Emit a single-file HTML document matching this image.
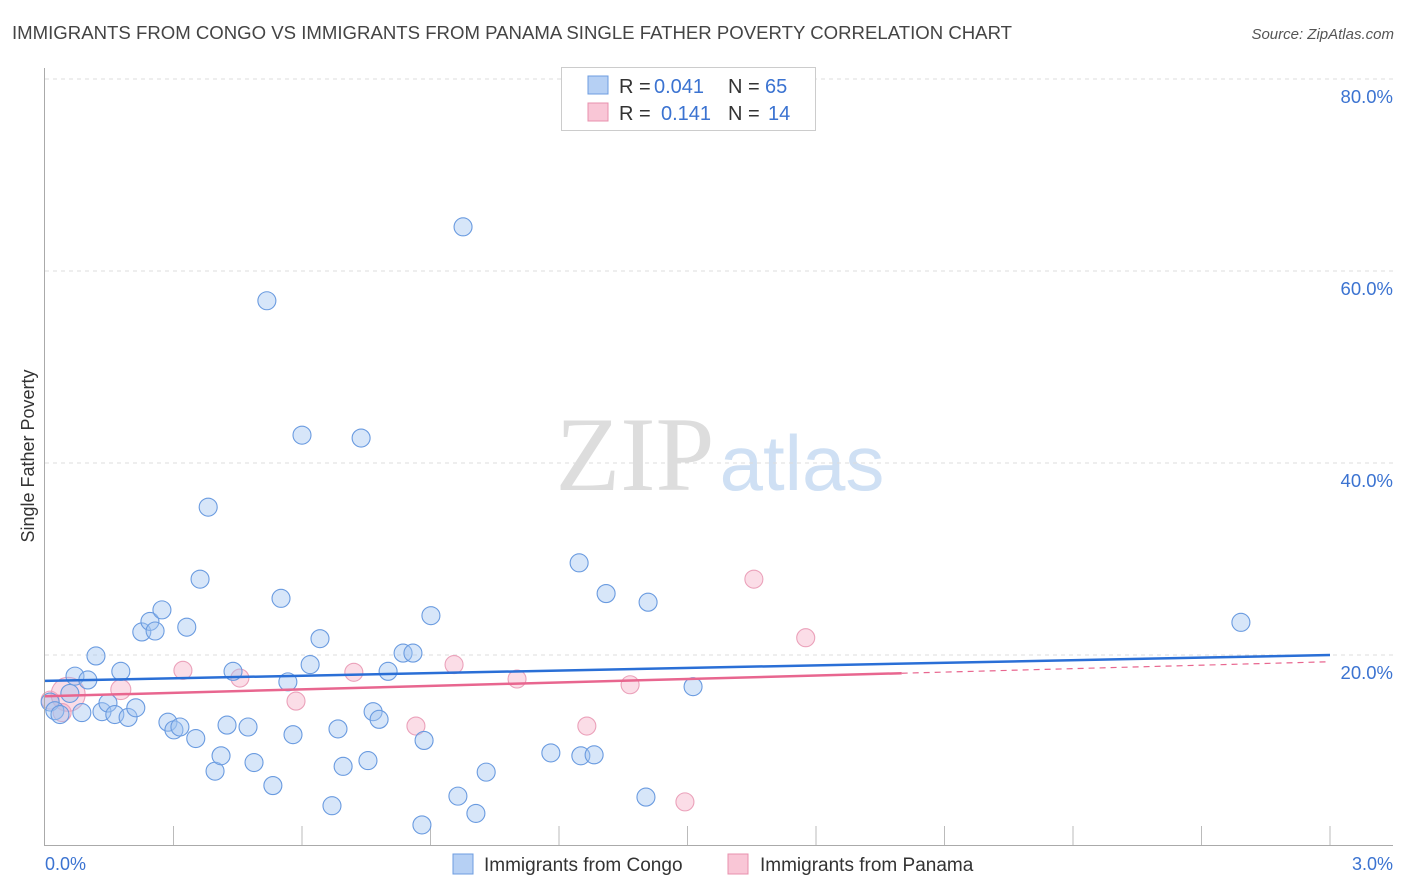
<!DOCTYPE html>
<html><head><meta charset="utf-8"><style>
body{margin:0;background:#fff;font-family:"Liberation Sans",sans-serif;}
svg{display:block}
</style></head><body>
<svg width="1406" height="892" xmlns="http://www.w3.org/2000/svg" id="svg">
<text x="12" y="39" font-size="18.6" fill="#444">IMMIGRANTS FROM CONGO VS IMMIGRANTS FROM PANAMA SINGLE FATHER POVERTY CORRELATION CHART</text>
<text x="1394" y="39" font-size="15" fill="#555" text-anchor="end" font-style="italic">Source: ZipAtlas.com</text>
<text transform="translate(34,456) rotate(-90)" font-size="18" fill="#333" text-anchor="middle">Single Father Poverty</text>
<g>
<text x="635" y="490" font-size="106" font-family="Liberation Serif" fill="#ddd" text-anchor="middle">ZIP</text>
<text x="802" y="490" font-size="78" fill="#cfe0f4" text-anchor="middle">atlas</text>
</g>
<g id="grid"></g>
<g id="marks"></g>
<line x1="44.5" y1="68" x2="44.5" y2="845" stroke="#aaa"/>
<line x1="44" y1="845.5" x2="1393" y2="845.5" stroke="#aaa"/>
<text x="45" y="870" font-size="18" fill="#3b73d1">0.0%</text>
<text x="1393" y="870" font-size="18" fill="#3b73d1" text-anchor="end">3.0%</text>
<g font-size="20">
<rect x="561.5" y="67.5" width="254" height="63" fill="#fff" stroke="#ccc"/>
<rect x="588" y="76" width="20" height="18" fill="#b6d0f4" stroke="#6d9ce0"/>
<rect x="588" y="103" width="20" height="18" fill="#f9c6d6" stroke="#e890ad"/>
<text x="619" y="93" fill="#333">R =</text>
<text x="654" y="93" fill="#3b73d1">0.041</text>
<text x="728" y="93" fill="#333">N =</text>
<text x="765" y="93" fill="#3b73d1">65</text>
<text x="619" y="120" fill="#333">R =</text>
<text x="661" y="120" fill="#3b73d1">0.141</text>
<text x="728" y="120" fill="#333">N =</text>
<text x="768" y="120" fill="#3b73d1">14</text>
</g>
<g>
<rect x="453" y="854" width="20" height="20" fill="#b6d0f4" stroke="#6d9ce0"/>
<text x="484" y="871" font-size="19" fill="#333">Immigrants from Congo</text>
<rect x="728" y="854" width="20" height="20" fill="#f9c6d6" stroke="#e890ad"/>
<text x="760" y="871" font-size="19" fill="#333">Immigrants from Panama</text>
</g>
</svg>
<script>
const yTicks=[20,40,60,80];
const xTickCount=10;
const congoX=[0.012,0.023,0.035,0.058,0.070,0.086,0.100,0.119,0.133,0.147,0.163,0.177,0.194,0.212,0.226,0.245,0.257,0.273,0.287,0.301,0.315,0.331,0.352,0.362,0.381,0.397,0.411,0.425,0.439,0.474,0.488,0.518,0.532,0.551,0.567,0.579,0.600,0.619,0.642,0.670,0.684,0.696,0.738,0.754,0.766,0.780,0.801,0.836,0.859,0.880,0.885,0.901,0.964,0.976,1.006,1.030,1.181,1.247,1.251,1.282,1.310,1.403,1.408,1.513,2.792];
const congoY=[15.1,14.2,13.8,16.0,17.8,14.0,17.4,19.9,14.1,15.0,13.8,18.3,13.5,14.5,22.4,23.5,22.5,24.7,13.0,12.2,12.5,22.9,11.3,27.9,35.4,7.9,9.5,12.7,18.3,12.5,8.8,56.9,6.4,25.9,17.2,11.7,42.9,19.0,21.7,4.3,12.3,8.4,42.6,9.0,14.1,13.3,18.3,20.2,20.2,2.3,11.1,24.1,5.3,64.6,3.5,7.8,9.8,29.6,9.5,9.6,26.4,5.2,25.5,16.7,23.4];
const panamaX=[0.012,0.054,0.040,0.177,0.322,0.455,0.586,0.721,0.866,0.955,1.102,1.265,1.366,1.494,1.655,1.776];
const panamaY=[15.3,15.9,14.0,16.4,18.4,17.6,15.2,18.2,12.6,19.0,17.5,12.6,16.9,4.7,27.9,21.8];
const panamaR=[9,17,9,10,9,9,9,9,9,9,9,9,9,9,9,9];
const congoTrend=[17.3,20.0];
const panamaTrend=[15.7,19.3];
const panamaSolidEnd=2.0;
const X=v=>45+v/3*1285, Y=v=>847-v*9.6;
const NS='http://www.w3.org/2000/svg';
function mk(t,a,p){const e=document.createElementNS(NS,t);for(const k in a)e.setAttribute(k,a[k]);p.appendChild(e);return e;}
const grid=document.getElementById('grid'),marks=document.getElementById('marks');
yTicks.forEach(t=>{
 const l=mk('line',{x1:45,x2:1393,y1:Y(t),y2:Y(t),stroke:'#ddd','stroke-dasharray':'4,4'},grid);
 
 
 const tx=mk('text',{x:1393,y:Y(t)+24,'font-size':18.5,fill:'#3b73d1','text-anchor':'end'},grid);
 tx.textContent=t.toFixed(1)+'%';
 
 
});
for(let i=1;i<=xTickCount;i++){
 const l=mk('line',{x1:X(i*0.3),x2:X(i*0.3),y1:826,y2:845,stroke:'#bbb'},grid);
 
 
}
panamaX.forEach((x,i)=>{
 const c=mk('circle',{cx:X(x),cy:Y(panamaY[i]),r:panamaR[i],fill:'rgba(246,170,196,0.4)',stroke:'#eba1ba','stroke-width':1.1},marks);
 
 
});
congoX.forEach((x,i)=>{
 const c=mk('circle',{cx:X(x),cy:Y(congoY[i]),r:9,fill:'rgba(160,196,240,0.42)',stroke:'#6a9be0','stroke-width':1.1},marks);
 
 
});
const pAt=v=>panamaTrend[0]+(panamaTrend[1]-panamaTrend[0])*v/3;
let l=mk('line',{x1:X(0),y1:Y(congoTrend[0]),x2:X(3),y2:Y(congoTrend[1]),stroke:'#2a6fd6','stroke-width':2.5},marks);


l=mk('line',{x1:X(0),y1:Y(pAt(0)),x2:X(panamaSolidEnd),y2:Y(pAt(panamaSolidEnd)),stroke:'#e8668f','stroke-width':2.5},marks);


l=mk('line',{x1:X(panamaSolidEnd),y1:Y(pAt(panamaSolidEnd)),x2:X(3),y2:Y(pAt(3)),stroke:'#e8668f','stroke-width':1.2,'stroke-dasharray':'6,5'},marks);


</script>
</body></html>
